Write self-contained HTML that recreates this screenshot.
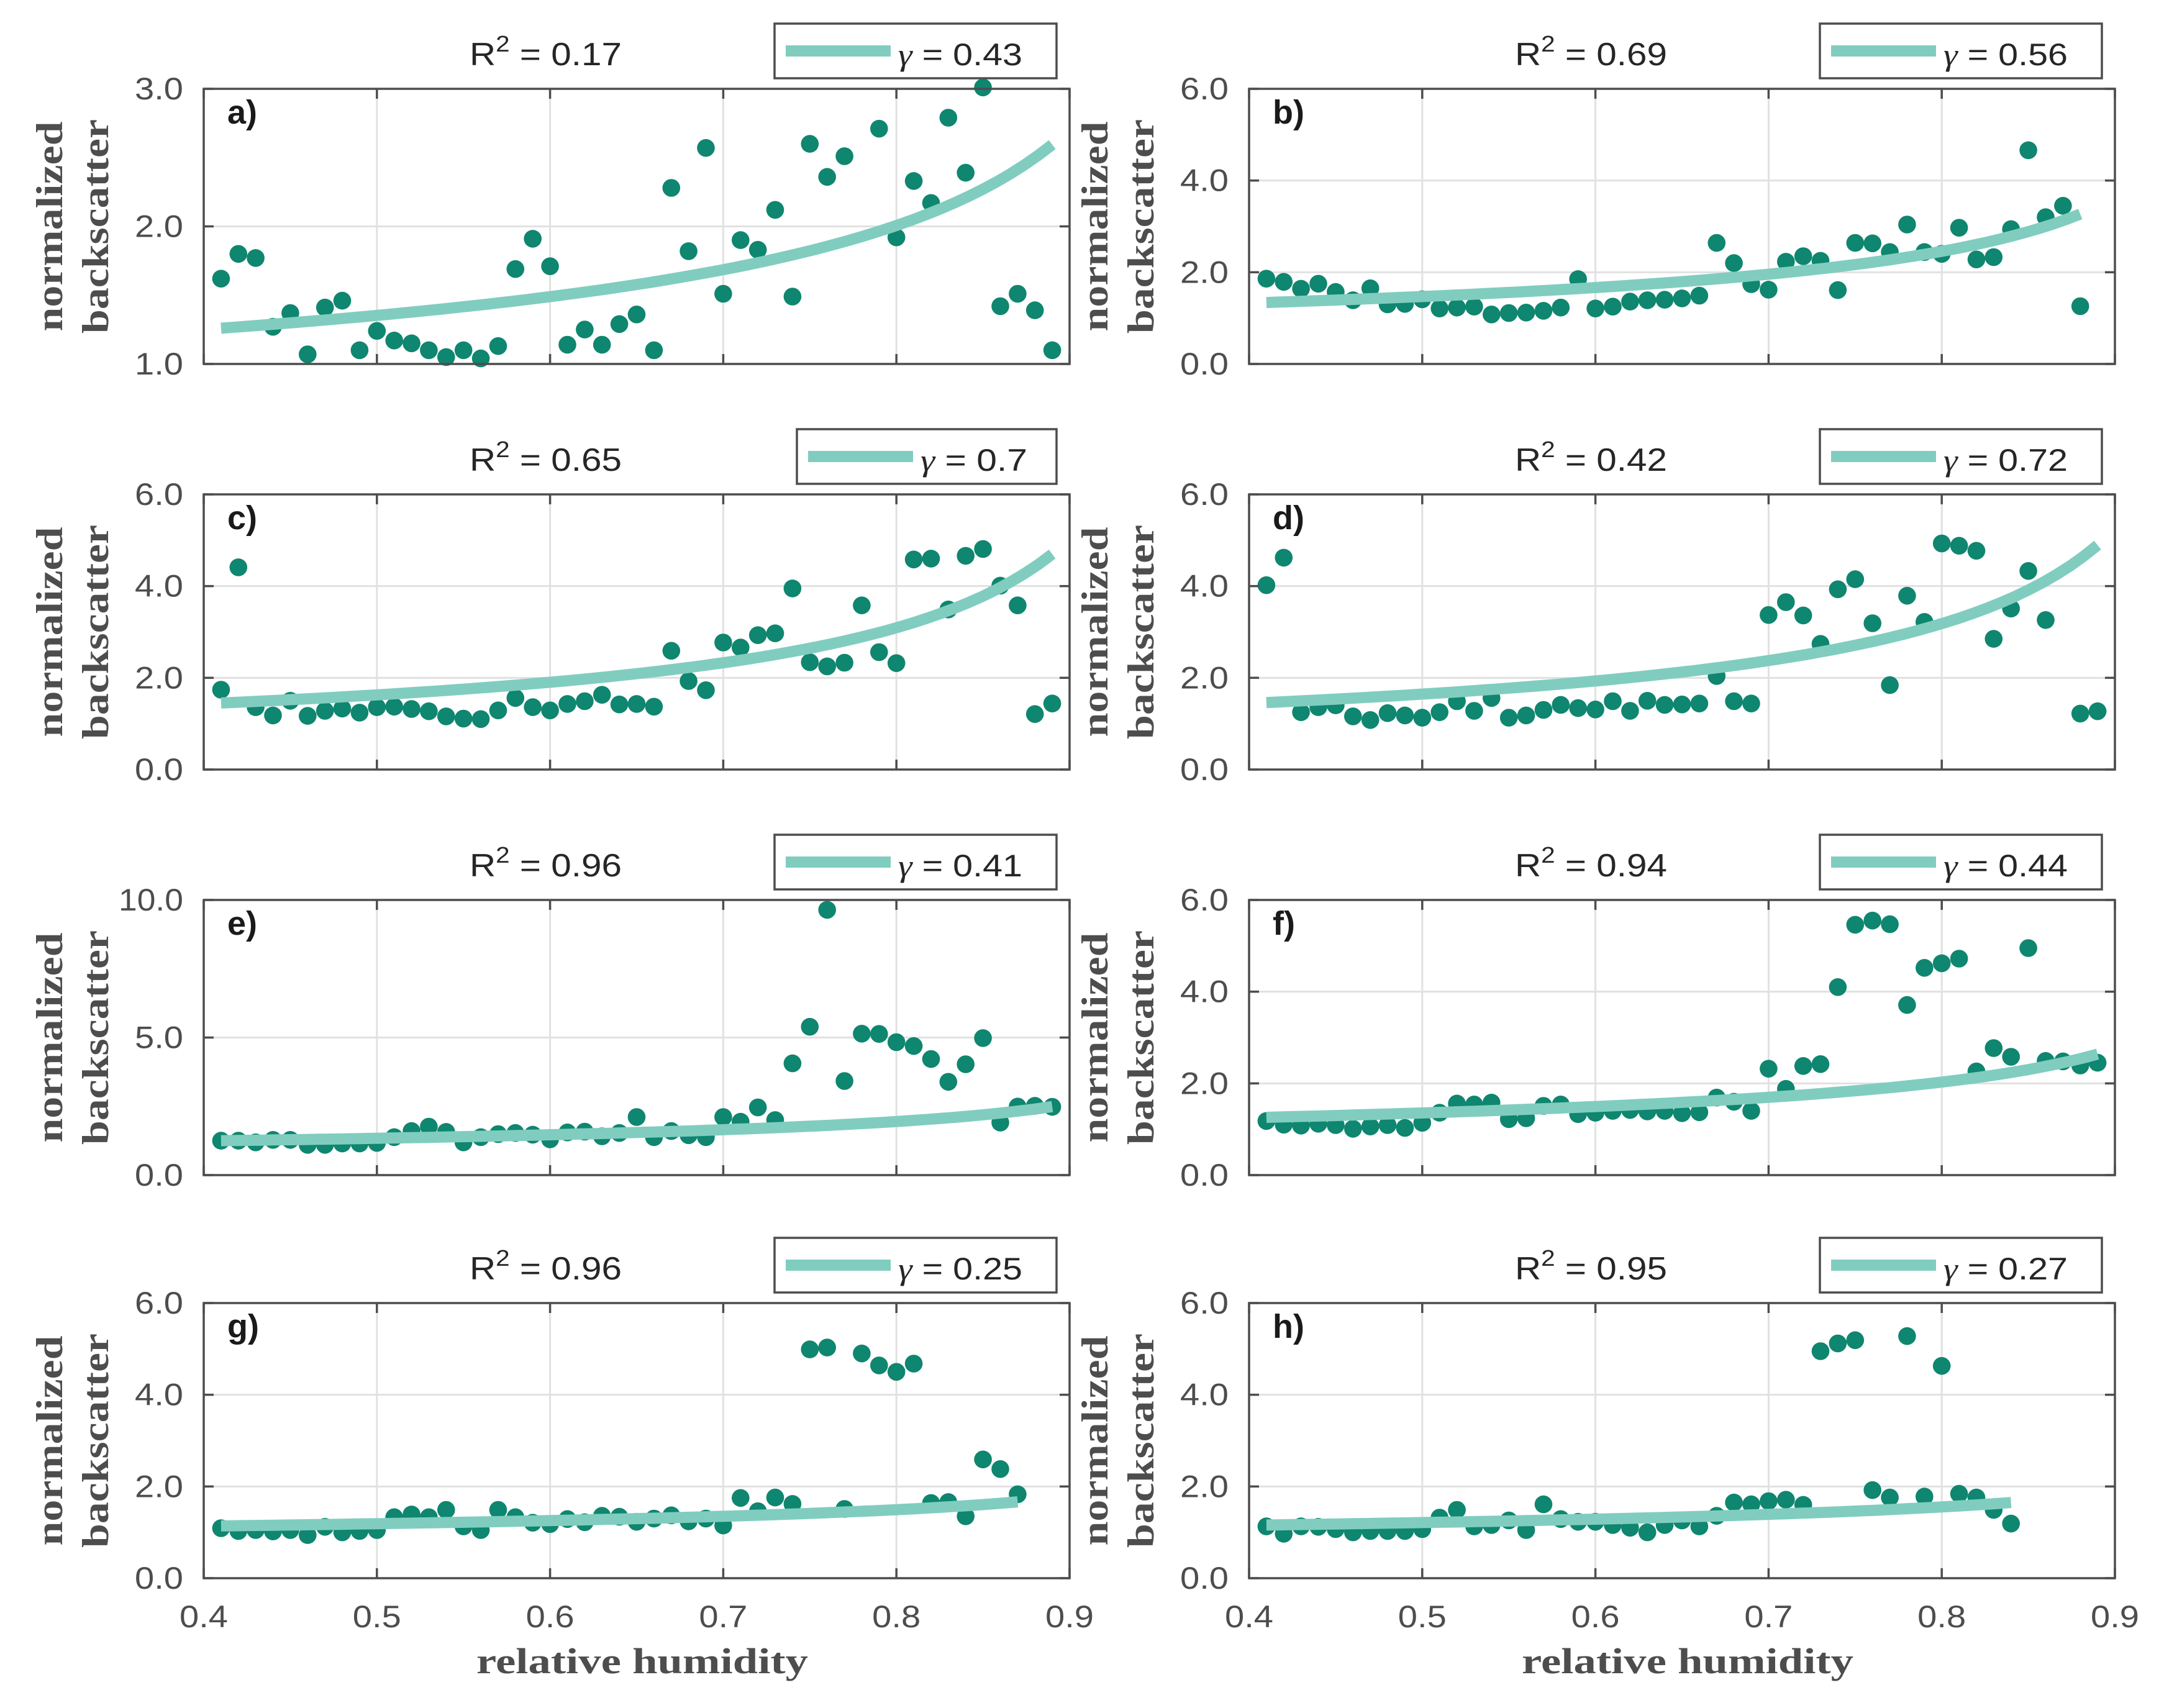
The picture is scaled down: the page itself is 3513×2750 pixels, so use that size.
<!DOCTYPE html>
<html><head><meta charset="utf-8"><title>Normalized backscatter vs relative humidity</title>
<style>html,body{margin:0;padding:0;background:#fff;}svg{display:block;}</style></head>
<body>
<svg id="fig" xmlns="http://www.w3.org/2000/svg" width="3513" height="2750" viewBox="0 0 3513 2750"></svg>
<script>
const rhStart = 0.41;
const rhStep = 0.01;
const panelLabels = ["a)","b)","c)","d)","e)","f)","g)","h)"];
const r2Values = ["0.17","0.69","0.65","0.42","0.96","0.94","0.96","0.95"];
const gammaValues = [0.43,0.56,0.7,0.72,0.41,0.44,0.25,0.27];
const gammaLabels = ["0.43","0.56","0.7","0.72","0.41","0.44","0.25","0.27"];
const fitStartValues = [1.26,1.34,1.45,1.46,1.25,1.26,1.14,1.16];
const fitEndRh = [0.89,0.88,0.89,0.89,0.89,0.89,0.87,0.84];
const yMins = [1,0,0,0,0,0,0,0];
const yMaxs = [3,6,6,6,10,6,6,6];
const yTicksA = [1,2,3];
const yTicksStd = [0,2,4,6];
const yTicksE = [0,5,10];
const xTicks = [0.4,0.5,0.6,0.7,0.8,0.9];
const xTickLabels = ["0.4","0.5","0.6","0.7","0.8","0.9"];
const seriesA = [1.62,1.80,1.77,1.27,1.37,1.07,1.41,1.46,1.10,1.24,1.17,1.15,1.10,1.05,1.10,1.04,1.13,1.69,1.91,1.71,1.14,1.25,1.14,1.29,1.36,1.10,2.28,1.82,2.57,1.51,1.90,1.83,2.12,1.49,2.60,2.36,2.51,null,2.71,1.92,2.33,2.17,2.79,2.39,3.01,1.42,1.51,1.39,1.10];
const seriesB = [1.86,1.79,1.64,1.75,1.57,1.39,1.65,1.30,1.31,1.41,1.21,1.23,1.25,1.08,1.11,1.12,1.16,1.23,1.85,1.21,1.25,1.36,1.39,1.40,1.43,1.49,2.64,2.20,1.74,1.62,2.23,2.35,2.25,1.61,2.64,2.63,2.44,3.04,2.44,2.40,2.97,2.28,2.33,2.94,4.66,3.20,3.45,1.26];
const seriesC = [1.74,4.41,1.36,1.18,1.50,1.17,1.28,1.33,1.24,1.36,1.37,1.32,1.27,1.16,1.11,1.10,1.29,1.56,1.36,1.29,1.43,1.49,1.63,1.42,1.43,1.37,2.59,1.93,1.73,2.77,2.66,2.93,2.97,3.95,2.34,2.25,2.33,3.58,2.56,2.32,4.58,4.60,3.49,4.66,4.81,4.01,3.58,1.21,1.44];
const seriesD = [4.02,4.62,1.25,1.36,1.40,1.16,1.08,1.23,1.18,1.13,1.25,1.49,1.28,1.56,1.13,1.18,1.30,1.41,1.34,1.31,1.49,1.28,1.50,1.41,1.42,1.44,2.04,1.49,1.44,3.37,3.65,3.36,2.74,3.93,4.15,3.19,1.84,3.79,3.22,4.93,4.88,4.77,2.85,3.51,4.33,3.26,null,1.22,1.27];
const seriesE = [1.25,1.25,1.19,1.28,1.28,1.10,1.10,1.15,1.15,1.17,1.38,1.60,1.76,1.57,1.19,1.38,1.49,1.53,1.47,1.30,1.55,1.58,1.41,1.53,2.11,1.38,1.60,1.45,1.38,2.11,1.94,2.46,2.00,4.06,5.39,9.64,3.42,5.14,5.13,4.83,4.69,4.22,3.39,4.03,4.98,1.91,2.49,2.52,2.48];
const seriesF = [1.18,1.10,1.08,1.12,1.09,1.01,1.06,1.09,1.03,1.14,1.36,1.56,1.54,1.58,1.22,1.24,1.51,1.54,1.33,1.36,1.40,1.42,1.39,1.40,1.35,1.37,1.69,1.60,1.40,2.32,1.88,2.38,2.42,4.10,5.46,5.55,5.47,3.71,4.52,4.62,4.72,2.26,2.77,2.58,4.95,2.49,2.48,2.39,2.45];
const seriesG = [1.09,1.03,1.05,1.02,1.05,0.94,1.12,1.00,1.03,1.05,1.33,1.39,1.33,1.49,1.13,1.05,1.49,1.33,1.21,1.18,1.29,1.22,1.36,1.34,1.23,1.30,1.37,1.24,1.30,1.15,1.75,1.46,1.76,1.62,4.99,5.03,1.51,4.90,4.64,4.50,4.68,1.64,1.66,1.35,2.59,2.38,1.83];
const seriesH = [1.13,0.97,1.13,1.12,1.07,1.00,1.03,1.03,1.03,1.07,1.32,1.49,1.13,1.16,1.26,1.05,1.61,1.29,1.23,1.23,1.16,1.10,1.00,1.16,1.26,1.13,1.36,1.65,1.61,1.68,1.71,1.60,4.95,5.12,5.19,1.92,1.76,5.28,1.78,4.63,1.84,1.76,1.49,1.19];
const allSeries = [seriesA,seriesB,seriesC,seriesD,seriesE,seriesF,seriesG,seriesH];

const NS = "http://www.w3.org/2000/svg";
const svg = document.getElementById("fig");
const colLefts = [328, 2011];
const rowTops = [143, 796, 1449, 2098];
const PW = 1394, PH = 443;
const AX = "#4d4d4d", GRID = "#e1e1e1", DOT = "#0f866f", FIT = "#80cdc0";

function mk(tag, attrs, parent) {
  const e = document.createElementNS(NS, tag);
  for (const k in attrs) e.setAttribute(k, attrs[k]);
  (parent || svg).appendChild(e);
  return e;
}

for (let p = 0; p < 8; p++) {
  const col = p % 2, row = Math.floor(p / 2);
  const L = colLefts[col], T = rowTops[row], R = L + PW, B = T + PH;
  const ymin = yMins[p], ymax = yMaxs[p];
  const xs = v => L + (v - 0.4) / 0.5 * PW;
  const ys = v => B - (v - ymin) / (ymax - ymin) * PH;
  const yt = p === 0 ? yTicksA : (p === 4 ? yTicksE : yTicksStd);

  const g = mk("g", {});
  
  

  for (let i = 1; i < xTicks.length - 1; i++) {
    const gl = mk("line", {x1: xs(xTicks[i]), x2: xs(xTicks[i]), y1: T, y2: B, stroke: GRID, "stroke-width": 3}, g);
    
    
  }
  for (let i = 1; i < yt.length - 1; i++) {
    const gl = mk("line", {x1: L, x2: R, y1: ys(yt[i]), y2: ys(yt[i]), stroke: GRID, "stroke-width": 3}, g);
    
    
  }

  const c0 = fitStartValues[p] * Math.pow(1 - rhStart, gammaValues[p]);
  let d = "";
  const n = 60;
  for (let i = 0; i <= n; i++) {
    const rh = rhStart + (fitEndRh[p] - rhStart) * i / n;
    const v = c0 * Math.pow(1 - rh, -gammaValues[p]);
    d += (i ? "L" : "M") + xs(rh).toFixed(1) + "," + ys(v).toFixed(1);
  }

  const ser = allSeries[p];
  for (let i = 0; i < ser.length; i++) {
    if (ser[i] === null) continue;
    const rh = rhStart + i * rhStep;
    const c = mk("circle", {cx: xs(rh).toFixed(1), cy: ys(ser[i]).toFixed(1), r: 14.3, fill: DOT}, g);
    
    
  }
  const fit = mk("path", {d: d, fill: "none", stroke: FIT, "stroke-width": 18}, g);
  
  

  const box = mk("rect", {x: L, y: T, width: PW, height: PH, fill: "none", stroke: AX, "stroke-width": 3.5}, g);
  
  

  for (let i = 0; i < xTicks.length; i++) {
    const x = xs(xTicks[i]);
    mk("line", {x1: x, x2: x, y1: B, y2: B - 16, stroke: AX, "stroke-width": 3.5}, g);
    mk("line", {x1: x, x2: x, y1: T, y2: T + 16, stroke: AX, "stroke-width": 3.5}, g);
    if (row === 3) {
      const tl = mk("text", {x: x, y: B + 79, "text-anchor": "middle", "font-family": "Liberation Sans, sans-serif", "font-size": 50, fill: AX, textLength: 78, lengthAdjust: "spacingAndGlyphs"}, g);
      tl.textContent = xTickLabels[i];
      
      
    }
  }
  for (let i = 0; i < yt.length; i++) {
    const y = ys(yt[i]);
    mk("line", {x1: L, x2: L + 16, y1: y, y2: y, stroke: AX, "stroke-width": 3.5}, g);
    mk("line", {x1: R, x2: R - 16, y1: y, y2: y, stroke: AX, "stroke-width": 3.5}, g);
    const lbl = yt[i].toFixed(1);
    const tl = mk("text", {x: L - 33, y: y + 17, "text-anchor": "end", "font-family": "Liberation Sans, sans-serif", "font-size": 50, fill: AX, textLength: lbl.length * 26, lengthAdjust: "spacingAndGlyphs"}, g);
    tl.textContent = lbl;
    
    
  }

  const pl = mk("text", {x: L + 38, y: T + 56, "font-family": "Liberation Sans, sans-serif", "font-size": 54, "font-weight": "bold", fill: "#1a1a1a"}, g);
  pl.textContent = panelLabels[p];
  
  

  const tt = mk("text", {x: L + 428, y: T - 38, "font-family": "Liberation Sans, sans-serif", "font-size": 52, fill: "#262626", textLength: 245, lengthAdjust: "spacingAndGlyphs"}, g);
  
  
  const t1 = mk("tspan", {}, tt); t1.textContent = "R";
  const t2 = mk("tspan", {dy: -22, "font-size": 36}, tt); t2.textContent = "2";
  const t3 = mk("tspan", {dy: 22}, tt); t3.textContent = " = " + r2Values[p];

  const lx = L + (p === 2 ? 955 : 919), ly = T - 105;
  const lg = mk("g", {}, g);
  
  
  mk("rect", {x: lx, y: ly, width: R - 21 - lx, height: 88, fill: "#fff", stroke: AX, "stroke-width": 3.5}, lg);
  const ll = mk("line", {x1: lx + 18, x2: lx + 187, y1: ly + 44, y2: ly + 44, stroke: FIT, "stroke-width": 18}, lg);
  
  
  const gl2 = gammaLabels[p].length;
  const lt = mk("text", {x: lx + 199, y: ly + 67, "font-family": "Liberation Sans, sans-serif", "font-size": 50, fill: "#262626", textLength: 200 - (4 - gl2) * 28, lengthAdjust: "spacingAndGlyphs"}, lg);
  
  
  const g1 = mk("tspan", {"font-family": "Liberation Serif, serif", "font-style": "italic"}, lt); g1.textContent = "γ";
  const g2 = mk("tspan", {}, lt); g2.textContent = " = " + gammaLabels[p];

  const cy = T + PH / 2;
  const yl = mk("text", {transform: "translate(" + (L - 228) + "," + cy + ") rotate(-90)", "text-anchor": "middle", "font-family": "Liberation Serif, serif", "font-weight": "bold", "font-size": 60, fill: AX, textLength: 338, lengthAdjust: "spacingAndGlyphs"}, g);
  yl.textContent = "normalized";
  
  
  const yl2 = mk("text", {transform: "translate(" + (L - 154) + "," + cy + ") rotate(-90)", "text-anchor": "middle", "font-family": "Liberation Serif, serif", "font-weight": "bold", "font-size": 60, fill: AX, textLength: 345, lengthAdjust: "spacingAndGlyphs"}, g);
  yl2.textContent = "backscatter";
  
  

  if (row === 3) {
    const xl = mk("text", {x: L + PW / 2 + 9, y: 2694, "text-anchor": "middle", "font-family": "Liberation Serif, serif", "font-weight": "bold", "font-size": 58, fill: AX, textLength: 534, lengthAdjust: "spacingAndGlyphs"}, g);
    xl.textContent = "relative humidity";
    
    
  }
}
</script>
</body></html>
